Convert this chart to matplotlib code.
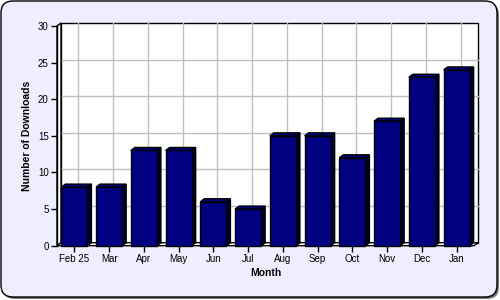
import matplotlib
matplotlib.use("Agg")
import matplotlib.pyplot as plt
from matplotlib.patches import Rectangle, Polygon, FancyBboxPatch

months = ["Feb 25", "Mar", "Apr", "May", "Jun", "Jul", "Aug", "Sep", "Oct", "Nov", "Dec", "Jan"]
downloads = [8, 8, 13, 13, 6, 5, 15, 15, 12, 17, 23, 24]
y_ticks = [0, 5, 10, 15, 20, 25, 30]

plt.rcParams['font.family'] = ['Liberation Sans', 'DejaVu Sans']

W, H = 500, 300
fig = plt.figure(figsize=(W / 100, H / 100), dpi=100)

# outer frame with shadow
frame_ax = fig.add_axes([0, 0, 1, 1])
frame_ax.set_xlim(0, W)
frame_ax.set_ylim(H, 0)
frame_ax.axis("off")
frame_ax.add_patch(FancyBboxPatch((3, 3), W - 4, H - 4, boxstyle="round,pad=0,rounding_size=12",
                                  fc="#777777", ec="none"))
frame_ax.add_patch(FancyBboxPatch((1, 1), W - 4, H - 4, boxstyle="round,pad=0,rounding_size=12",
                                  fc="#eeeeff", ec="black", lw=1))

# plot area (front axis)
x0, x1 = 57, 474
y0, y1 = 245.7, 26
ax = fig.add_axes([x0 / W, 1 - y0 / H, (x1 - x0) / W, (y0 - y1) / H])
n = len(months)
ax.set_xlim(-0.5, n - 0.5)
ax.set_ylim(0, 30)
ax.patch.set_alpha(0)
for s in ax.spines.values():
    s.set_visible(False)

# 3d depth in data units
dx = 4 / ((x1 - x0) / n)
dy = 3 / ((y0 - y1) / 30)

# back wall
ax.add_patch(Rectangle((-0.5 + dx, dy), n, 30, fc="white", ec="black", lw=1, clip_on=False, zorder=0))
for t in y_ticks[1:-1]:
    ax.plot([-0.5 + dx, n - 0.5 + dx], [t + dy, t + dy], color="#c0c0c0", lw=1, zorder=1, clip_on=False)
for i in range(n):
    ax.plot([i + dx, i + dx], [dy, 30 + dy], color="#c0c0c0", lw=1, zorder=1, clip_on=False)
# left wall and floor
ax.add_patch(Polygon([(-0.5, 0), (-0.5 + dx, dy), (-0.5 + dx, 30 + dy), (-0.5, 30)],
                     fc="white", ec="black", lw=1, clip_on=False, zorder=1))
ax.add_patch(Polygon([(-0.5, 0), (n - 0.5, 0), (n - 0.5 + dx, dy), (-0.5 + dx, dy)],
                     fc="white", ec="black", lw=1, clip_on=False, zorder=1))

bw = 0.75
for i, v in enumerate(downloads):
    l, r = i - bw / 2, i + bw / 2
    ax.add_patch(Polygon([(r, 0), (r + dx, dy), (r + dx, v + dy), (r, v)],
                         fc="#000030", ec="black", lw=1, zorder=3, clip_on=False))
    ax.add_patch(Polygon([(l, v), (r, v), (r + dx, v + dy), (l + dx, v + dy)],
                         fc="#000080", ec="black", lw=1, zorder=3, clip_on=False))
    ax.add_patch(Rectangle((l, 0), bw, v, fc="#000080", ec="black", lw=1, zorder=4, clip_on=False))

ax.set_yticks(y_ticks)
ax.set_xticks(range(n))
ax.set_xticklabels(months)
ax.tick_params(axis="both", labelsize=7, length=4, width=1, colors="black", pad=2)
ax.plot([-0.5, -0.5], [0, 30], color="black", lw=1, clip_on=False, zorder=5)

ax.set_ylabel("Number of Downloads", fontsize=7.5, fontweight="bold", labelpad=4)
ax.set_xlabel("Month", fontsize=7.5, fontweight="bold", labelpad=3)

fig.savefig("out.png", dpi=100)
